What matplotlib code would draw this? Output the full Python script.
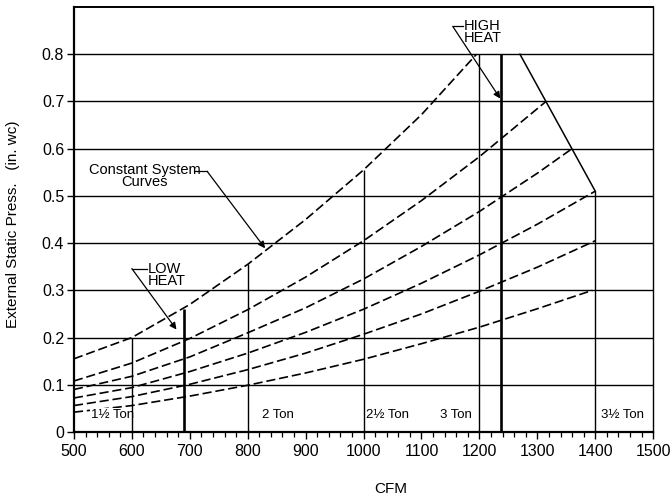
import matplotlib
matplotlib.use("Agg")
import matplotlib.pyplot as plt

plt.rcParams['font.family'] = ['Liberation Sans', 'DejaVu Sans']

# ---- data ----
curve1_cfm = [500, 600, 700, 800, 900, 1000, 1100, 1195]
curve1_esp = [0.155, 0.200, 0.270, 0.355, 0.450, 0.555, 0.672, 0.800]

curve2_cfm = [500, 600, 700, 800, 900, 1000, 1100, 1200, 1315]
curve2_esp = [0.108, 0.146, 0.198, 0.259, 0.328, 0.405, 0.490, 0.583, 0.700]

curve3_cfm = [500, 600, 700, 800, 900, 1000, 1100, 1200, 1300, 1360]
curve3_esp = [0.090, 0.118, 0.159, 0.210, 0.263, 0.324, 0.393, 0.467, 0.548, 0.600]

curve4_cfm = [500, 600, 700, 800, 900, 1000, 1100, 1200, 1300, 1400]
curve4_esp = [0.072, 0.094, 0.128, 0.167, 0.211, 0.260, 0.315, 0.375, 0.440, 0.510]

curve5_cfm = [500, 600, 700, 800, 900, 1000, 1100, 1200, 1300, 1400]
curve5_esp = [0.056, 0.075, 0.101, 0.132, 0.167, 0.207, 0.250, 0.298, 0.349, 0.405]

curve6_cfm = [500, 600, 700, 800, 900, 1000, 1100, 1200, 1300, 1395]
curve6_esp = [0.042, 0.056, 0.076, 0.099, 0.125, 0.154, 0.187, 0.222, 0.261, 0.300]

# vertical tonnage / heat lines
vline_cfm = [600, 690, 800, 1000, 1200, 1237, 1400]
vline_top = [0.200, 0.260, 0.355, 0.555, 0.800, 0.800, 0.510]
vline_heavy = [False, True, False, False, False, True, False]

# limit line
limit_cfm = [1270, 1400]
limit_esp = [0.800, 0.510]

ton_labels = ['1½ Ton', '2 Ton', '2½ Ton', '3 Ton', '3½ Ton']
ton_label_cfm = [529, 824, 1005, 1132, 1410]
ton_label_esp = [0.036, 0.036, 0.036, 0.036, 0.036]

x_ticks = [500, 600, 700, 800, 900, 1000, 1100, 1200, 1300, 1400, 1500]
y_ticks = [0, 0.1, 0.2, 0.3, 0.4, 0.5, 0.6, 0.7, 0.8]
y_ticklabels = ['0', '0.1', '0.2', '0.3', '0.4', '0.5', '0.6', '0.7', '0.8']

# ---- figure ----
fig = plt.figure(figsize=(6.72, 5.0), dpi=100)
ax = fig.add_axes([0.110, 0.136, 0.862, 0.850])
ax.set_xlim(500, 1500)
ax.set_ylim(0, 0.9)

# horizontal grid lines
for y in y_ticks[1:]:
    ax.axhline(y, color='black', lw=1.0, zorder=1)

# dashed system curves
curves = [(curve1_cfm, curve1_esp), (curve2_cfm, curve2_esp),
          (curve3_cfm, curve3_esp), (curve4_cfm, curve4_esp),
          (curve5_cfm, curve5_esp), (curve6_cfm, curve6_esp)]
for cx, cy in curves:
    ax.plot(cx, cy, color='black', lw=1.2, dashes=(5.5, 2.3), zorder=2)

# tonnage labels (white box hides the low curve behind the text)
for t, x, y in zip(ton_labels, ton_label_cfm, ton_label_esp):
    ax.text(x, y, t, fontsize=9.5, ha='left', va='center', zorder=3,
            bbox=dict(facecolor='white', edgecolor='none', pad=0.6))

# vertical lines
for x, top, heavy in zip(vline_cfm, vline_top, vline_heavy):
    ax.plot([x, x], [0, top], color='black', lw=1.9 if heavy else 1.0,
            solid_capstyle='butt', zorder=4)

# limit line
ax.plot(limit_cfm, limit_esp, color='black', lw=1.1, zorder=4)

# annotations
ax.text(622, 0.542, 'Constant System\nCurves', fontsize=10.5, ha='center',
        va='center', linespacing=0.85, zorder=5)
ax.plot([707, 730], [0.552, 0.552], color='black', lw=0.9, zorder=5)
ax.annotate('', xy=(830, 0.389), xytext=(730, 0.552),
            arrowprops=dict(arrowstyle='-|>', color='black', lw=0.9,
                            mutation_scale=10, shrinkA=0, shrinkB=0), zorder=5)

ax.text(628, 0.332, 'LOW\nHEAT', fontsize=10.5, ha='left', va='center',
        linespacing=0.82, zorder=5)
ax.plot([600, 626], [0.346, 0.346], color='black', lw=0.9, zorder=5)
ax.annotate('', xy=(677, 0.217), xytext=(600, 0.346),
            arrowprops=dict(arrowstyle='-|>', color='black', lw=0.9,
                            mutation_scale=10, shrinkA=0, shrinkB=0), zorder=5)

ax.text(1173, 0.848, 'HIGH\nHEAT', fontsize=10.5, ha='left', va='center',
        linespacing=0.82, zorder=5)
ax.plot([1154, 1172], [0.859, 0.859], color='black', lw=0.9, zorder=5)
ax.annotate('', xy=(1236, 0.706), xytext=(1154, 0.859),
            arrowprops=dict(arrowstyle='-|>', color='black', lw=0.9,
                            mutation_scale=10, shrinkA=0, shrinkB=0), zorder=5)

# axes styling
ax.set_xticks(x_ticks)
ax.set_xticks(range(500, 1501, 20), minor=True)
ax.set_yticks(y_ticks)
ax.set_yticklabels(y_ticklabels)
ax.tick_params(axis='x', which='major', direction='out', length=5, width=1.0,
               labelsize=11.5, pad=4)
ax.tick_params(axis='x', which='minor', direction='out', length=3.5, width=0.9)
ax.tick_params(axis='y', which='major', direction='out', length=5, width=1.0,
               labelsize=11.5, pad=2)
for side in ['left', 'bottom']:
    ax.spines[side].set_linewidth(1.6)
ax.spines['top'].set_linewidth(1.4)
ax.spines['right'].set_linewidth(1.0)

ax.set_xlabel('CFM', fontsize=11)
ax.xaxis.set_label_coords((391 - 74) / 579, -0.118)
ax.set_ylabel('External Static Press.   (in. wc)', fontsize=11)
ax.yaxis.set_label_coords(-0.093, 0.49)

fig.savefig('out.png', dpi=100)
